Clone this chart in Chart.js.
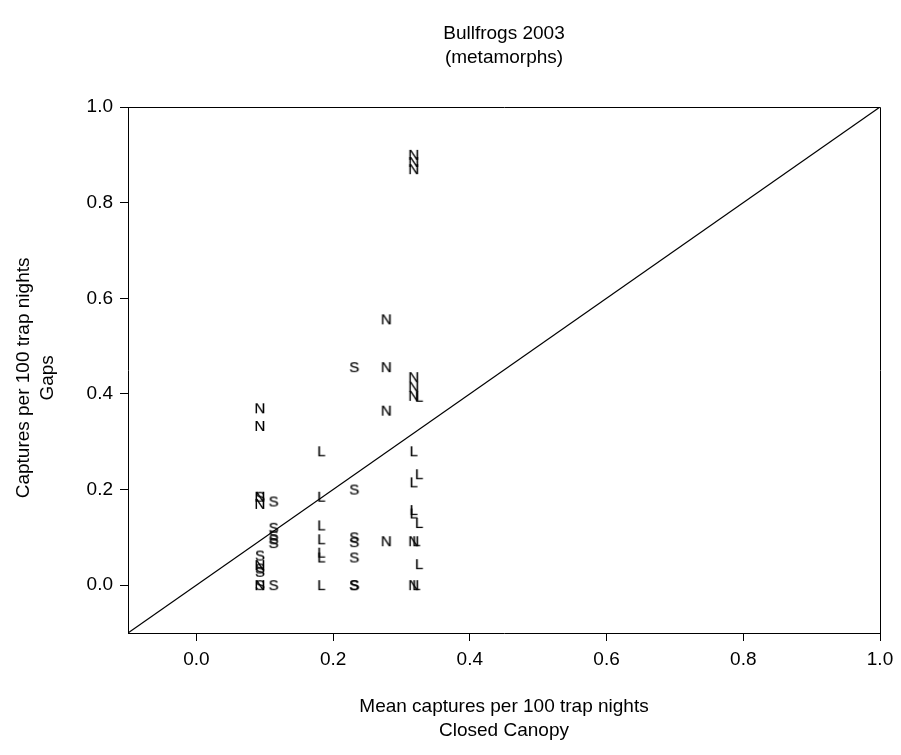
<!DOCTYPE html>
<html>
<head>
<meta charset="utf-8">
<title>Bullfrogs 2003 (metamorphs)</title>
<script src="https://cdn.jsdelivr.net/npm/chart.js@4"></script>
<style>
  html, body { margin: 0; padding: 0; background: #fff; }
  #wrap { width: 901px; height: 755px; }
</style>
</head>
<body>
<div id="wrap"><canvas id="myChart" width="901" height="755"></canvas></div>
<script>
// Site captures, closed canopy (x) vs gaps (y), one letter per site type
let nX = [0.093, 0.093, 0.093, 0.093, 0.093, 0.093, 0.278, 0.278, 0.278, 0.278, 0.318, 0.318, 0.318, 0.318, 0.318, 0.318, 0.318, 0.318],
    nY = [0.37, 0.333, 0.185, 0.17, 0.042, 0.0, 0.556, 0.456, 0.365, 0.092, 0.90, 0.885, 0.87, 0.435, 0.415, 0.396, 0.092, 0.0];

let sX = [0.093, 0.093, 0.093, 0.093, 0.093, 0.113, 0.113, 0.113, 0.113, 0.113, 0.113, 0.231, 0.231, 0.231, 0.231, 0.231, 0.231, 0.231],
    sY = [0.185, 0.062, 0.035, 0.028, 0.0, 0.175, 0.12, 0.104, 0.096, 0.088, 0.0, 0.456, 0.2, 0.1, 0.09, 0.058, 0.0, 0.0];

let lX = [0.183, 0.183, 0.183, 0.183, 0.183, 0.183, 0.183, 0.318, 0.318, 0.318, 0.318, 0.326, 0.326, 0.326, 0.326, 0.322, 0.322],
    lY = [0.28, 0.185, 0.125, 0.096, 0.068, 0.058, 0.0, 0.28, 0.215, 0.157, 0.15, 0.394, 0.232, 0.13, 0.044, 0.092, 0.0];

// 1:1 reference line
let lineX = [-0.1, 1.0],
    lineY = [-0.1, 1.0];

let tickValues = [0.0, 0.2, 0.4, 0.6, 0.8, 1.0];

const FONT = '"Liberation Sans", Arial, sans-serif';

function zip(xs, ys) {
    return xs.map((x, i) => ({ x: x, y: ys[i] }));
}

// small canvas with a letter, used as the point marker
function letterSprite(ch) {
    let c = document.createElement('canvas');
    c.width = 20;
    c.height = 20;
    let g = c.getContext('2d');
    g.font = '15px ' + FONT;
    g.fillStyle = '#000';
    g.strokeStyle = '#000';
    g.lineWidth = 0.2;
    g.textAlign = 'center';
    g.textBaseline = 'alphabetic';
    g.fillText(ch, 10, 10 + 5.4);
    g.strokeText(ch, 10, 10 + 5.4);
    return c;
}

function letterSet(label, xs, ys) {
    return {
        label: label,
        data: zip(xs, ys),
        pointStyle: letterSprite(label),
        pointRadius: 6,
        showLine: false
    };
}

// draw the top and right edges of the plot frame
const frame = {
    id: 'frame',
    afterDatasetsDraw(chart) {
        let a = chart.chartArea, c = chart.ctx;
        c.save();
        c.strokeStyle = '#000';
        c.lineWidth = 1;
        c.beginPath();
        c.moveTo(Math.round(a.left) + 0.5, Math.round(a.top) + 0.5);
        c.lineTo(Math.round(a.right) + 0.5, Math.round(a.top) + 0.5);
        c.lineTo(Math.round(a.right) + 0.5, Math.round(a.bottom) + 0.5);
        c.stroke();
        c.restore();
    }
};

function axis(text, fitKey, fitValue, titlePadding) {
    return {
        type: 'linear',
        min: -0.1,
        max: 1.0,
        afterBuildTicks: s => { s.ticks = tickValues.map(v => ({ value: v })); },
        afterFit: s => { s[fitKey] = fitValue; },
        ticks: {
            color: '#000',
            padding: 7,
            font: { family: FONT, size: 19 },
            callback: v => v.toFixed(1)
        },
        grid: {
            display: true,
            drawOnChartArea: false,
            drawTicks: true,
            tickLength: 8,
            color: '#000',
            lineWidth: 1
        },
        border: { display: true, color: '#000', width: 1 },
        title: {
            display: true,
            text: text,
            color: '#000',
            padding: titlePadding,
            font: { family: FONT, size: 19, lineHeight: '24px' }
        }
    };
}

var ctx = document.getElementById('myChart').getContext('2d');

var myChart = new Chart(ctx, {
    type: 'scatter',
    data: {
        datasets: [
            {
                label: '1:1',
                data: zip(lineX, lineY),
                showLine: true,
                borderColor: '#000',
                borderWidth: 1.2,
                pointRadius: 0,
                fill: false
            },
            letterSet('N', nX, nY),
            letterSet('S', sX, sY),
            letterSet('L', lX, lY)
        ]
    },
    options: {
        responsive: false,
        animation: false,
        events: [],
        layout: { padding: { left: 0, right: 21, top: 0, bottom: 0 } },
        plugins: {
            legend: { display: false },
            tooltip: { enabled: false },
            title: {
                display: true,
                fullSize: false,
                text: ['Bullfrogs 2003', '(metamorphs)'],
                color: '#000',
                padding: { top: 22, bottom: 37 },
                font: { family: FONT, size: 19, weight: 'normal', lineHeight: '24px' }
            }
        },
        scales: {
            x: Object.assign(axis(['Mean captures per 100 trap nights', 'Closed Canopy'], 'height', 122, { top: 0, bottom: 12 }), { position: 'bottom' }),
            y: Object.assign(axis(['Captures per 100 trap nights   ', 'Gaps   '], 'width', 128, { top: 12, bottom: 0 }), { position: 'left' })
        }
    },
    plugins: [frame]
});
</script>
</body>
</html>
